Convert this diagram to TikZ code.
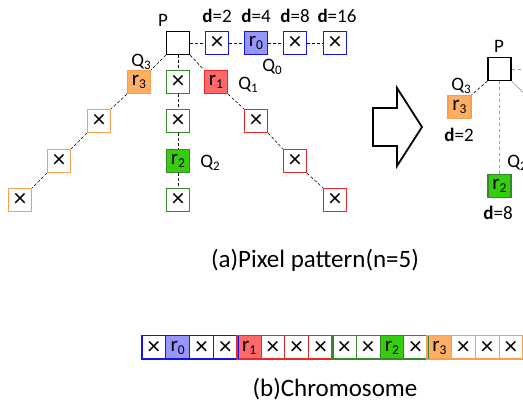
\documentclass[tikz,border=0pt]{standalone}
\usepackage{fontspec}
\setmainfont{Carlito}
\definecolor{blueB}{RGB}{20,20,235}
\definecolor{blueF}{RGB}{150,150,250}
\definecolor{redB}{RGB}{235,40,40}
\definecolor{redF}{RGB}{255,105,105}
\definecolor{greenB}{RGB}{55,135,45}
\definecolor{greenF}{RGB}{55,205,15}
\definecolor{orangeB}{RGB}{245,160,80}
\definecolor{orangeF}{RGB}{255,175,100}
\newcommand{\xx}{{\fontsize{25}{25}\selectfont\char"00D7}}
\newcommand{\rr}[1]{r\raisebox{-3pt}{\fontsize{13.5}{13.5}\selectfont #1}}
\newcommand{\qq}[1]{Q\raisebox{-3pt}{\fontsize{13}{13}\selectfont #1}}
\newcommand{\dd}[1]{\textbf{d}=#1}
\begin{document}
\begin{tikzpicture}[x=1pt,y=-1pt,
  cell/.style={draw,line width=1.2pt,minimum size=23pt,inner sep=0pt,font=\fontsize{21}{21}\selectfont},
  pbox/.style={draw=black,line width=1.2pt,minimum size=23pt,inner sep=0pt},
  bcell/.style={cell,draw=blueB},
  rcell/.style={cell,draw=redB},
  gcell/.style={cell,draw=greenB},
  ocell/.style={cell,draw=orangeB},
  link/.style={densely dashed,line width=0.6pt,black},
  glink/.style={dashed,line width=0.8pt,gray!80},
  lab/.style={font=\fontsize{19}{19}\selectfont,inner sep=0pt},
  capt/.style={font=\fontsize{25}{25}\selectfont,inner sep=0pt},
  chrom/.style={draw,line width=1pt,minimum width=23.8pt,minimum height=23pt,inner sep=0pt,font=\fontsize{21}{21}\selectfont}
]
\useasboundingbox (0,0) rectangle (523,403);
\clip (0,0) rectangle (523,403);

% (a) left pattern
\node[pbox] (P) at (178,43) {};
\node[lab] (Plab) at (163,20) {P};
\node[bcell] (t1) at (217,43) {\xx};
\node[bcell,fill=blueF] (t2) at (256,43) {\rr{0}};
\node[bcell] (t3) at (295,43) {\xx};
\node[bcell] (t4) at (335,43) {\xx};
\node[lab] (d1) at (217,16) {\dd{2}};
\node[lab] (d2) at (256,16) {\dd{4}};
\node[lab] (d3) at (295,16) {\dd{8}};
\node[lab] (d4) at (337,16) {\dd{16}};
\node[lab] (q0) at (272,67) {\qq{0}};

\node[gcell] (g1) at (178,82) {\xx};
\node[gcell] (g2) at (178,121) {\xx};
\node[gcell,fill=greenF] (g3) at (178,161) {\rr{2}};
\node[gcell] (g4) at (178,200) {\xx};
\node[lab] (q2) at (210,163) {\qq{2}};

\node[ocell,fill=orangeF] (o1) at (139,82) {\rr{3}};
\node[ocell] (o2) at (99,121) {\xx};
\node[ocell] (o3) at (59,161) {\xx};
\node[ocell] (o4) at (20,200) {\xx};
\node[lab] (q3) at (141,62) {\qq{3}};

\node[rcell,fill=redF] (r1) at (216,82) {\rr{1}};
\node[rcell] (r2) at (256,121) {\xx};
\node[rcell] (r3) at (295,161) {\xx};
\node[rcell] (r4) at (335,200) {\xx};
\node[lab] (q1) at (248,85) {\qq{1}};

\draw[link] (P.east) -- (t1.west);
\draw[link] (t1.east) -- (t2.west);
\draw[link] (t2.east) -- (t3.west);
\draw[link] (t3.east) -- (t4.west);
\draw[link] (P.south) -- (g1.north);
\draw[link] (g1.south) -- (g2.north);
\draw[link] (g2.south) -- (g3.north);
\draw[link] (g3.south) -- (g4.north);
\draw[link] (P.south west) -- (o1.north east);
\draw[link] (o1.south west) -- (o2.north east);
\draw[link] (o2.south west) -- (o3.north east);
\draw[link] (o3.south west) -- (o4.north east);
\draw[link] (P.south east) -- (r1.north west);
\draw[link] (r1.south east) -- (r2.north west);
\draw[link] (r2.south east) -- (r3.north west);
\draw[link] (r3.south east) -- (r4.north west);

% arrow
\draw[line width=1.8pt,line join=miter] (373,108) -- (397,108) -- (397,88) -- (422,127) -- (397,166) -- (397,146) -- (373,146) -- cycle;

% right pattern
\node[pbox] (PB) at (499.5,69) {};
\node[lab] (PBlab) at (499,46) {P};
\node[ocell,fill=orangeF] (ob) at (459.5,107) {\rr{3}};
\node[lab] (q3b) at (461,86) {\qq{3}};
\node[lab] (db1) at (459,135) {\dd{2}};
\node[gcell,fill=greenF] (gb) at (499.5,186) {\rr{2}};
\node[lab] (q2b) at (517,163) {\qq{2}};
\node[lab] (db2) at (498,213) {\dd{8}};
\coordinate (ePB) at (540,69);
\coordinate (sePB) at (545,114);
\draw[glink] (PB.east) -- (ePB);
\draw[glink,solid,line width=0.6pt] (PB.south east) -- (sePB);
\draw[glink] (PB.south) -- (gb.north);
\draw[link] (PB.south west) -- (ob.north east);

\node[capt] (capa) at (315,260) {(a)Pixel pattern(n=5)};

% (b) chromosome
\foreach \i/\c/\f/\t in {0/blueB/white/\xx,1/blueB/blueF/\rr{0},2/blueB/white/\xx,3/blueB/white/\xx,
  4/redB/redF/\rr{1},5/redB/white/\xx,6/redB/white/\xx,7/redB/white/\xx,
  8/greenB/white/\xx,9/greenB/white/\xx,10/greenB/greenF/\rr{2},11/greenB/white/\xx,
  12/orangeB/orangeF/\rr{3},13/orangeB/white/\xx,14/orangeB/white/\xx,15/orangeB/white/\xx}{
  \node[chrom,draw=\c,fill=\f] (c\i) at ({153.9+23.8*\i},347.5) {\t};
}
\draw[blueB,line width=1.6pt] (c0.north west) rectangle (c3.south east);
\draw[redB,line width=1.6pt] (c4.north west) rectangle (c7.south east);
\draw[greenB,line width=1.6pt] (c8.north west) rectangle (c11.south east);
\draw[orangeB,line width=1.6pt] (c12.north west) rectangle (c15.south east);

\node[capt] (capb) at (335,389) {(b)Chromosome};
\end{tikzpicture}
\end{document}
